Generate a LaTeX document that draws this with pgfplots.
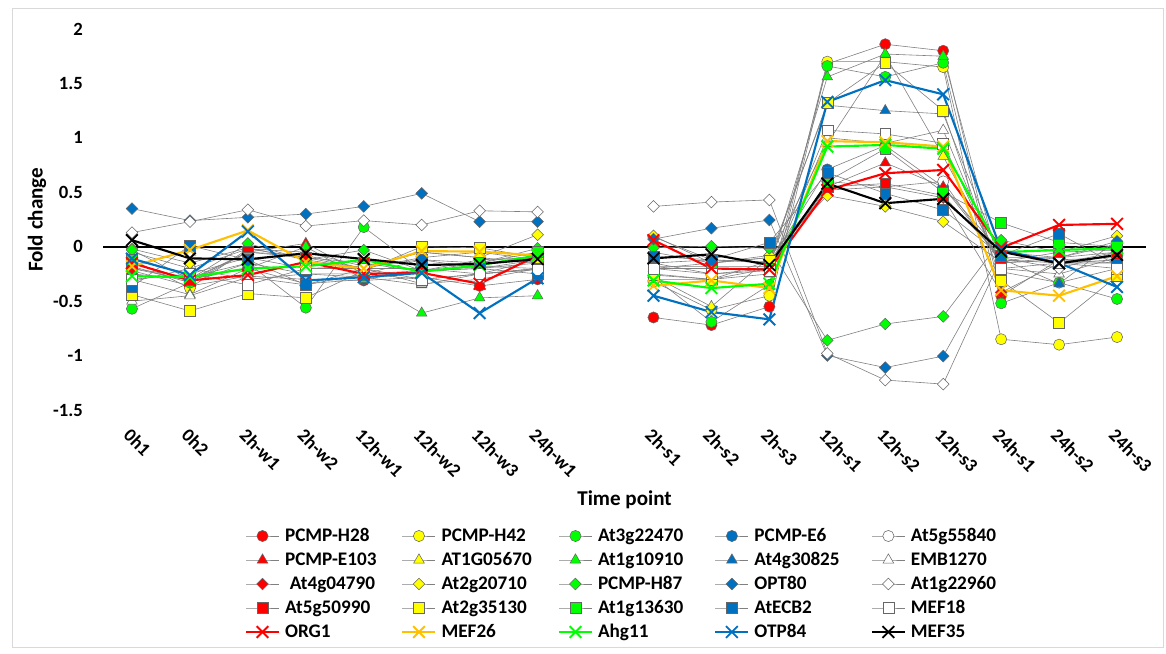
\documentclass[border=0pt]{standalone}
\usepackage{pgfplots}
\usepackage{pgfplotstable}
\pgfplotsset{compat=1.18}
\usepackage{fontspec}
\setmainfont{Carlito}
\definecolor{cRed}{HTML}{FF0000}
\definecolor{cYel}{HTML}{FFFF00}
\definecolor{cGrn}{HTML}{00FF00}
\definecolor{cBlu}{HTML}{0070C0}
\definecolor{cOrg}{HTML}{FFC000}
\definecolor{cFrame}{HTML}{D9D9D9}
\pgfplotstableread{
x H28 E103 A04790 A50990 ORG1 H42 AT05670 A20710 A35130 MEF26 A22470 A10910 H87 A13630 Ahg11 E6 A30825 OPT80 ECB2 OTP84 A55840 EMB A22960 MEF18 MEF35
0 -0.22 -0.18 -0.20 -0.15 -0.15 -0.12 -0.05 -0.02 -0.44 -0.18 -0.57 -0.30 -0.03 -0.12 -0.27 -0.25 -0.20 0.35 -0.37 -0.11 -0.32 -0.50 0.13 -0.30 0.06
1 -0.36 -0.33 -0.31 -0.30 -0.31 -0.38 -0.20 -0.15 -0.59 -0.03 -0.33 -0.44 -0.30 -0.25 -0.28 -0.30 -0.28 0.24 0.01 -0.26 -0.20 -0.45 0.23 -0.25 -0.107
2 -0.27 -0.05 -0.05 -0.05 -0.26 -0.02 -0.02 -0.01 -0.43 0.15 -0.15 -0.20 0.03 -0.10 -0.20 -0.20 -0.15 0.27 -0.12 0.14 -0.30 -0.28 0.34 -0.35 -0.116
3 -0.30 0.03 -0.08 -0.10 -0.14 -0.10 -0.05 -0.12 -0.47 -0.14 -0.56 0.00 -0.12 -0.20 -0.18 -0.34 -0.25 0.30 -0.35 -0.31 -0.25 -0.35 0.19 -0.20 -0.06
4 -0.31 -0.25 -0.20 -0.15 -0.25 -0.20 -0.18 -0.20 -0.22 -0.20 0.18 -0.30 -0.03 -0.18 -0.12 -0.30 -0.28 0.37 -0.25 -0.28 -0.25 -0.20 0.24 -0.20 -0.113
5 -0.28 -0.22 -0.20 -0.23 -0.24 -0.10 -0.05 -0.05 0.00 -0.04 -0.22 -0.61 -0.22 -0.12 -0.23 -0.22 -0.35 0.49 -0.12 -0.24 -0.30 -0.34 0.20 -0.30 -0.168
6 -0.36 -0.12 -0.25 -0.18 -0.34 -0.05 -0.10 -0.10 -0.01 -0.045 -0.20 -0.47 -0.15 -0.15 -0.17 -0.20 -0.25 0.23 -0.20 -0.61 -0.25 -0.30 0.33 -0.25 -0.159
7 -0.30 -0.10 -0.12 -0.20 -0.08 -0.12 -0.15 0.11 -0.10 -0.08 -0.12 -0.45 -0.015 -0.05 -0.08 -0.15 -0.20 0.23 -0.25 -0.29 -0.20 -0.20 0.32 -0.21 -0.113
8 nan nan nan nan nan nan nan nan nan nan nan nan nan nan nan nan nan nan nan nan nan nan nan nan nan
9 -0.65 -0.05 0.09 -0.18 0.06 -0.32 -0.27 0.10 -0.26 -0.36 -0.28 -0.25 -0.01 -0.20 -0.31 -0.15 -0.20 0.07 -0.09 -0.45 -0.15 -0.30 0.37 -0.20 -0.107
10 -0.72 -0.15 -0.12 -0.18 -0.20 -0.58 -0.55 -0.15 -0.30 -0.31 -0.69 -0.30 0.005 -0.20 -0.38 -0.12 -0.15 0.17 -0.12 -0.60 -0.25 -0.30 0.41 -0.25 -0.07
11 -0.55 -0.10 -0.14 -0.18 -0.21 -0.45 -0.10 -0.08 -0.13 -0.38 -0.35 -0.20 -0.015 -0.20 -0.34 -0.15 -0.10 0.245 0.04 -0.667 -0.20 -0.25 0.43 -0.22 -0.168
12 1.68 0.55 0.52 0.55 0.52 1.70 0.95 0.47 1.32 0.97 1.66 1.56 -0.86 0.60 0.92 0.71 1.30 -1.00 0.68 1.33 0.60 1.00 -0.98 1.07 0.58
13 1.86 0.77 0.55 0.58 0.675 1.70 1.76 0.37 1.69 0.96 1.56 1.77 -0.71 0.90 0.935 0.93 1.25 -1.11 0.49 1.53 0.55 0.95 -1.225 1.036 0.40
14 1.80 0.55 0.45 0.47 0.705 1.65 0.83 0.23 1.25 0.92 1.69 1.75 -0.64 0.50 0.90 0.55 1.22 -1.005 0.337 1.40 0.60 1.07 -1.262 0.95 0.44
15 -0.45 -0.05 -0.42 -0.10 -0.01 -0.85 -0.15 -0.14 -0.31 -0.40 -0.52 -0.23 0.06 0.22 -0.05 -0.12 -0.11 -0.05 -0.08 -0.03 -0.15 -0.20 -0.10 -0.20 -0.045
16 -0.12 -0.15 -0.15 -0.10 0.20 -0.90 -0.10 -0.05 -0.70 -0.45 -0.33 -0.33 -0.05 0.04 -0.03 -0.15 -0.34 -0.10 0.12 -0.15 -0.12 -0.25 -0.20 -0.15 -0.153
17 -0.10 -0.05 -0.12 -0.05 0.21 -0.83 0.02 0.10 -0.27 -0.27 -0.48 -0.20 -0.03 0.00 -0.015 -0.15 0.06 0.05 -0.17 -0.37 -0.15 -0.10 -0.05 -0.20 -0.076
}\data
\pgfplotsset{
  mc/.style={draw=black!50, line width=0.45pt, mark=*, mark size=4.2pt, mark options={solid, fill=#1, draw=black!60, line width=0.4pt}},
  mt/.style={draw=black!50, line width=0.45pt, mark=triangle*, mark size=4.6pt, mark options={solid, fill=#1, draw=black!60, line width=0.4pt}},
  md/.style={draw=black!50, line width=0.45pt, mark=square*, mark size=3.1pt, mark options={solid, rotate=45, fill=#1, draw=black!60, line width=0.4pt}},
  ms/.style={draw=black!50, line width=0.45pt, mark=square*, mark size=4.1pt, mark options={solid, fill=#1, draw=black!60, line width=0.4pt}},
  ln/.style={draw=#1, line width=1.6pt, mark=x, mark size=6.2pt, mark options={solid, draw=#1, line width=1.4pt}},
}
\begin{document}
\begin{tikzpicture}
\path[use as bounding box] (0pt,0pt) rectangle (874.5pt,-489.75pt);
\draw[cFrame, line width=0.75pt] (9pt,-6pt) rectangle (872.25pt,-485.25pt);
\begin{axis}[
  at={(77.25pt,-21.75pt)}, anchor=north west,
  scale only axis, width=782.25pt, height=285.75pt,
  xmin=-0.5, xmax=17.5, ymin=-1.5, ymax=2,
  axis line style={draw=none},
  major tick length=0pt,
  xtick={0,1,2,3,4,5,6,7,9,10,11,12,13,14,15,16,17},
  xticklabels={0h1,0h2,2h-w1,2h-w2,12h-w1,12h-w2,12h-w3,24h-w1,2h-s1,2h-s2,2h-s3,12h-s1,12h-s2,12h-s3,24h-s1,24h-s2,24h-s3},
  ytick={-1.5,-1,-0.5,0,0.5,1,1.5,2},
  yticklabels={-1.5,-1,-0.5,0,0.5,1,1.5,2},
  tick label style={font=\bfseries\fontsize{14}{16}\selectfont},
  xticklabel style={xshift=0pt, yshift=-13pt, rotate=-45, anchor=north west, inner sep=0pt},
  yticklabel style={xshift=-15pt, anchor=east, inner sep=0pt},
  unbounded coords=jump,
  xlabel={Time point}, ylabel={Fold change},
  label style={font=\bfseries\fontsize{15.8}{18}\selectfont},
  xlabel style={at={(axis description cs:0.5,-0.236)}, anchor=center},
  ylabel style={at={(axis description cs:-0.0633,0.499)}, anchor=center},
  legend columns=5,
  legend cell align=left,
  legend style={at={(axis description cs:0.1361,-0.2992)}, anchor=north west, draw=none, fill=none,
     inner sep=0pt, outer sep=0pt, row sep=0pt, column sep=0pt,
     font=\bfseries\fontsize{14.4}{16}\selectfont,
     nodes={text width=83.5pt, inner xsep=3.75pt, inner ysep=2.25pt, text height=10.5pt, text depth=3pt}},
  legend image code/.code={\draw[mark repeat=2,mark phase=2,#1] plot coordinates {(0pt,0pt) (12.375pt,0pt) (24.75pt,0pt)};},
]
\draw[black, line width=1.3pt] (axis cs:-0.5,0) -- (axis cs:17.5,0);
\addplot[mc=cRed] table[x=x,y=H28] {\data}; \addlegendentry{PCMP-H28}
\addplot[mc=cYel] table[x=x,y=H42] {\data}; \addlegendentry{PCMP-H42}
\addplot[mc=cGrn] table[x=x,y=A22470] {\data}; \addlegendentry{At3g22470}
\addplot[mc=cBlu] table[x=x,y=E6] {\data}; \addlegendentry{PCMP-E6}
\addplot[mc=white] table[x=x,y=A55840] {\data}; \addlegendentry{At5g55840}
\addplot[mt=cRed] table[x=x,y=E103] {\data}; \addlegendentry{PCMP-E103}
\addplot[mt=cYel] table[x=x,y=AT05670] {\data}; \addlegendentry{AT1G05670}
\addplot[mt=cGrn] table[x=x,y=A10910] {\data}; \addlegendentry{At1g10910}
\addplot[mt=cBlu] table[x=x,y=A30825] {\data}; \addlegendentry{At4g30825}
\addplot[mt=white] table[x=x,y=EMB] {\data}; \addlegendentry{EMB1270}
\addplot[md=cRed] table[x=x,y=A04790] {\data}; \addlegendentry{\hspace{0.25em}At4g04790}
\addplot[md=cYel] table[x=x,y=A20710] {\data}; \addlegendentry{At2g20710}
\addplot[md=cGrn] table[x=x,y=H87] {\data}; \addlegendentry{PCMP-H87}
\addplot[md=cBlu] table[x=x,y=OPT80] {\data}; \addlegendentry{OPT80}
\addplot[md=white] table[x=x,y=A22960] {\data}; \addlegendentry{At1g22960}
\addplot[ms=cRed] table[x=x,y=A50990] {\data}; \addlegendentry{At5g50990}
\addplot[ms=cYel] table[x=x,y=A35130] {\data}; \addlegendentry{At2g35130}
\addplot[ms=cGrn] table[x=x,y=A13630] {\data}; \addlegendentry{At1g13630}
\addplot[ms=cBlu] table[x=x,y=ECB2] {\data}; \addlegendentry{AtECB2}
\addplot[ms=white] table[x=x,y=MEF18] {\data}; \addlegendentry{MEF18}
\addplot[ln=cRed] table[x=x,y=ORG1] {\data}; \addlegendentry{ORG1}
\addplot[ln=cOrg] table[x=x,y=MEF26] {\data}; \addlegendentry{MEF26}
\addplot[ln=cGrn] table[x=x,y=Ahg11] {\data}; \addlegendentry{Ahg11}
\addplot[ln=cBlu] table[x=x,y=OTP84] {\data}; \addlegendentry{OTP84}
\addplot[ln=black] table[x=x,y=MEF35] {\data}; \addlegendentry{MEF35}
\end{axis}
\end{tikzpicture}
\end{document}
